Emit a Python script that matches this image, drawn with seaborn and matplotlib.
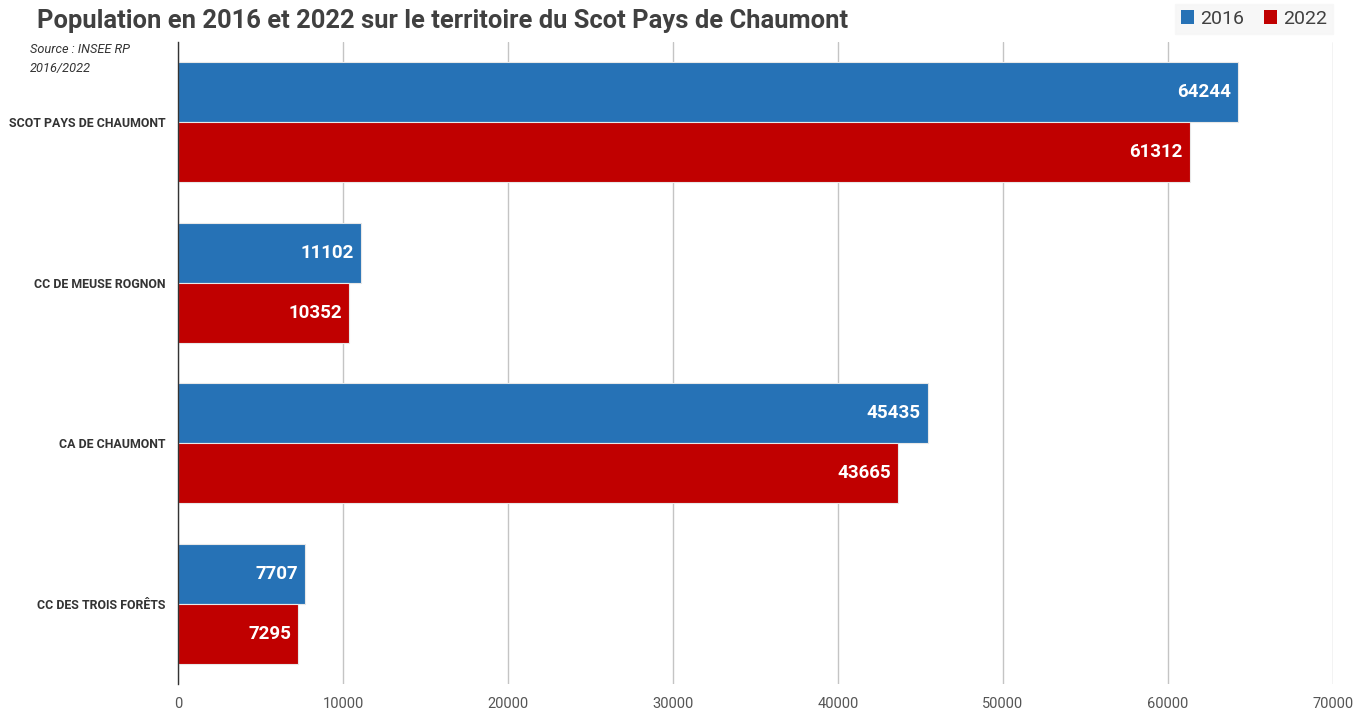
import matplotlib
matplotlib.use("Agg")
import matplotlib.pyplot as plt
from matplotlib.patches import Patch
import seaborn as sns
import pandas as pd

# Territories, top to bottom
territoires = ["SCOT PAYS DE CHAUMONT", "CC DE MEUSE ROGNON", "CA DE CHAUMONT", "CC DES TROIS FORÊTS"]
pop_2016 = [64244, 11102, 45435, 7707]
pop_2022 = [61312, 10352, 43665, 7295]
annees = ["2016", "2022"]
x_ticks = [0, 10000, 20000, 30000, 40000, 50000, 60000, 70000]

couleurs = {"2016": "#2672B6", "2022": "#C00000"}

df = pd.DataFrame({
    "territoire": territoires * 2,
    "annee": ["2016"] * len(territoires) + ["2022"] * len(territoires),
    "population": pop_2016 + pop_2022,
})

sns.set_theme(style="white")
plt.rcParams["font.family"] = ["Roboto", "DejaVu Sans"]

fig = plt.figure(figsize=(13.68, 7.14), dpi=100)
ax = fig.add_axes([0.1301, 0.042, 0.9744 - 0.1301, 0.9412 - 0.042])

sns.barplot(data=df, y="territoire", x="population", hue="annee", order=territoires,
            hue_order=annees, palette=couleurs, orient="h", width=0.75, gap=0,
            saturation=1, edgecolor="#e8e8e8", linewidth=0.8, legend=False, ax=ax)

# Value labels inside the bar ends
for cont in ax.containers:
    ax.bar_label(cont, labels=[f"{int(v)}" for v in cont.datavalues], padding=-5,
                 label_type="edge", color="white", fontsize=13.5, fontweight="bold")
for txt in ax.texts:
    txt.set_horizontalalignment("right")

ax.set_xlim(0, 70000)
ax.set_xticks(x_ticks)
ax.set_xticklabels([str(t) for t in x_ticks], color="#555555", fontsize=10.5)
ax.tick_params(axis="x", length=0, pad=9)
ax.tick_params(axis="y", length=0, pad=9)
for lab in ax.get_yticklabels():
    lab.set_fontsize(8.9)
    lab.set_fontweight("bold")
    lab.set_color("#333333")

ax.grid(axis="x", color="#c4c4c4", linewidth=1)
ax.set_axisbelow(True)
for s in ["top", "right", "bottom"]:
    ax.spines[s].set_visible(False)
ax.spines["left"].set_color("#333333")
ax.spines["left"].set_linewidth(1)
ax.set_xlabel("")
ax.set_ylabel("")

fig.text(37 / 1368, 1 - 21 / 714, "Population en 2016 et 2022 sur le territoire du Scot Pays de Chaumont",
         fontsize=18.4, fontweight="bold", color="#404040", ha="left", va="center")
fig.text(30 / 1368, 1 - 59 / 714, "Source : INSEE RP\n2016/2022", fontsize=9.2, style="italic",
         color="#333333", ha="left", va="center", linespacing=1.55)

handles = [Patch(facecolor=couleurs[a], edgecolor="none", label=a) for a in annees]
leg = fig.legend(handles=handles, loc="upper right", bbox_to_anchor=(1333 / 1368, 1 - 4 / 714),
                 ncol=2, frameon=True, fontsize=14, handlelength=0.7, handleheight=0.7,
                 handletextpad=0.3, columnspacing=1.0, borderpad=0.3, borderaxespad=0,
                 fancybox=False)
leg.get_frame().set_facecolor("#f6f6f6")
leg.get_frame().set_edgecolor("#f6f6f6")
for t in leg.get_texts():
    t.set_color("#404040")

fig.savefig("out.png", dpi=100, facecolor="white")
